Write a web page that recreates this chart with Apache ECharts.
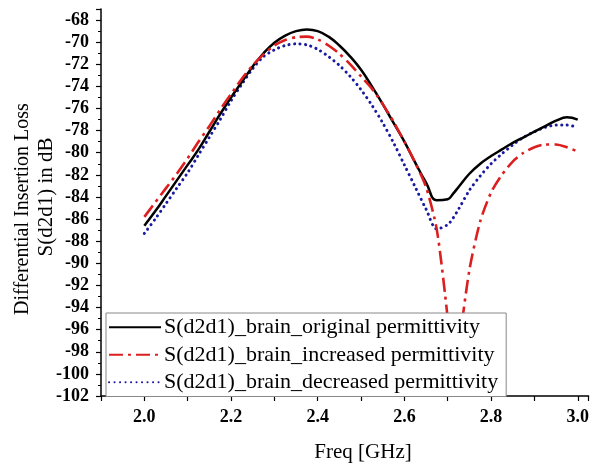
<!DOCTYPE html>
<html>
<head>
<meta charset="utf-8">
<script src="https://cdn.jsdelivr.net/npm/echarts@6/dist/echarts.min.js"></script>
<style>
html,body{margin:0;padding:0;background:#fff;}
#chart{width:592px;height:468px;}
</style>
</head>
<body>
<div id="chart"></div>
<script>
// Frequency points (GHz)
const freq = [2.000,2.025,2.050,2.075,2.100,2.125,2.150,2.175,2.200,2.225,2.250,2.275,2.300,2.325,2.350,2.375,2.400,2.425,2.450,2.475,2.500,2.525,2.550,2.575,2.600,2.625,2.650,2.675,2.700,2.7125,2.725,2.750,2.775,2.800,2.825,2.850,2.875,2.900,2.925,2.950,2.975,3.000];
// S(d2d1) in dB
const originalPerm = [-86.6,-85.3,-83.9,-82.5,-81.1,-79.7,-78.1,-76.5,-75.0,-73.6,-72.2,-71.0,-70.05,-69.4,-69.0,-68.85,-69.0,-69.5,-70.3,-71.3,-72.5,-74.0,-75.6,-77.3,-79.0,-80.9,-82.7,-84.3,-84.2,-83.7,-83.1,-81.9,-81.0,-80.3,-79.7,-79.1,-78.6,-78.1,-77.6,-77.1,-76.8,-77.0];
const increasedPerm = [-85.8,-84.5,-83.2,-81.9,-80.5,-79.0,-77.6,-76.1,-74.7,-73.3,-72.1,-71.1,-70.3,-69.8,-69.55,-69.5,-69.75,-70.3,-71.05,-72.0,-73.1,-74.2,-75.6,-77.2,-79.0,-80.9,-83.1,-87.0,-95.0,-100.5,-97.6,-90.6,-86.2,-83.6,-82.0,-80.8,-80.0,-79.5,-79.25,-79.25,-79.5,-79.9];
const decreasedPerm = [-87.3,-86.0,-84.6,-83.2,-81.8,-80.2,-78.6,-77.0,-75.3,-73.8,-72.4,-71.3,-70.7,-70.3,-70.15,-70.25,-70.65,-71.3,-72.1,-73.1,-74.3,-75.7,-77.3,-79.1,-81.1,-83.1,-85.1,-86.9,-86.5,-85.9,-85.1,-83.4,-82.1,-81.0,-80.1,-79.3,-78.6,-78.1,-77.7,-77.5,-77.5,-77.7];
const seriesNames = [
  'S(d2d1)_brain_original permittivity',
  'S(d2d1)_brain_increased permittivity',
  'S(d2d1)_brain_decreased permittivity'
];
const xTitle = 'Freq [GHz]';
const yTitle1 = 'Differential Insertion Loss';
const yTitle2 = 'S(d2d1) in dB';

const pairs = arr => freq.map((f, i) => [f, arr[i]]);
const serif = '"Liberation Serif", "Times New Roman", serif';

const chart = echarts.init(document.getElementById('chart'), null, {renderer: 'canvas'});
chart.setOption({
  animation: false,
  backgroundColor: '#fff',
  grid: {left: 101, right: 1, top: 9, bottom: 72, containLabel: false},
  xAxis: {
    type: 'value', min: 1.9, max: 3.025, interval: 0.1,
    axisLine: {show: true, lineStyle: {color: '#000', width: 1.5}},
    axisTick: {show: true, inside: false, length: 5, lineStyle: {color: '#000', width: 1.2}},
    splitLine: {show: false},
    axisLabel: {
      color: '#000', fontFamily: serif, fontWeight: 'bold', fontSize: 18, margin: 12,
      formatter: v => { const t = Math.round(v * 10); return (Math.abs(v * 10 - t) < 1e-6 && t % 2 === 0) ? (t / 10).toFixed(1) : ''; }
    }
  },
  yAxis: {
    type: 'value', min: -102, max: -67, interval: 2,
    axisLine: {show: true, lineStyle: {color: '#000', width: 1.5}},
    axisTick: {show: true, inside: false, length: 5, lineStyle: {color: '#000', width: 1.2}},
    minorTick: {show: true, splitNumber: 2, length: 3, lineStyle: {color: '#000', width: 1}},
    splitLine: {show: false},
    axisLabel: {
      color: '#000', fontFamily: serif, fontWeight: 'bold', fontSize: 18, margin: 12,
      formatter: v => (Math.round(v) === v && v % 2 === 0) ? String(v) : ''
    }
  },
  legend: {
    orient: 'vertical', left: 106, top: 313, z: 20,
    padding: [3, 8, 3, 2],
    itemGap: 5,
    itemWidth: 52, itemHeight: 14,
    backgroundColor: '#fff', borderColor: '#888', borderWidth: 1,
    itemStyle: {opacity: 0},
    textStyle: {fontFamily: serif, fontSize: 22, color: '#000', lineHeight: 22.5, padding: [0,0,0,-2]},
    data: seriesNames
  },
  graphic: [
    {type: 'text', z: 30, position: [363, 452], style: {text: xTitle, font: '21px ' + serif, fill: '#000', textAlign: 'center', textVerticalAlign: 'middle'}},
    {type: 'text', z: 30, rotation: Math.PI / 2, position: [23, 209], style: {text: yTitle1, font: '20px ' + serif, fill: '#000', textAlign: 'center', textVerticalAlign: 'middle'}},
    {type: 'text', z: 30, rotation: Math.PI / 2, position: [46, 197], style: {text: yTitle2, font: '21px ' + serif, fill: '#000', textAlign: 'center', textVerticalAlign: 'middle'}}
  ],
  series: [
    {name: seriesNames[0], type: 'line', data: pairs(originalPerm), symbol: 'none', smooth: 0.45, z: 3,
     lineStyle: {color: '#000', width: 2.5, type: 'solid'}, itemStyle: {color: '#000'}},
    {name: seriesNames[1], type: 'line', data: pairs(increasedPerm), symbol: 'none', smooth: 0.25, z: 4,
     lineStyle: {color: '#dc1e1e', width: 2.6, type: [14, 5, 3, 5]}, itemStyle: {color: '#dc1e1e'}},
    {name: seriesNames[2], type: 'line', data: pairs(decreasedPerm), symbol: 'none', smooth: 0.3, z: 2,
     lineStyle: {color: '#1a1aa0', width: 3, type: [0.1, 5.4], cap: 'round'}, itemStyle: {color: '#1a1aa0'}}
  ]
});
</script>
</body>
</html>
